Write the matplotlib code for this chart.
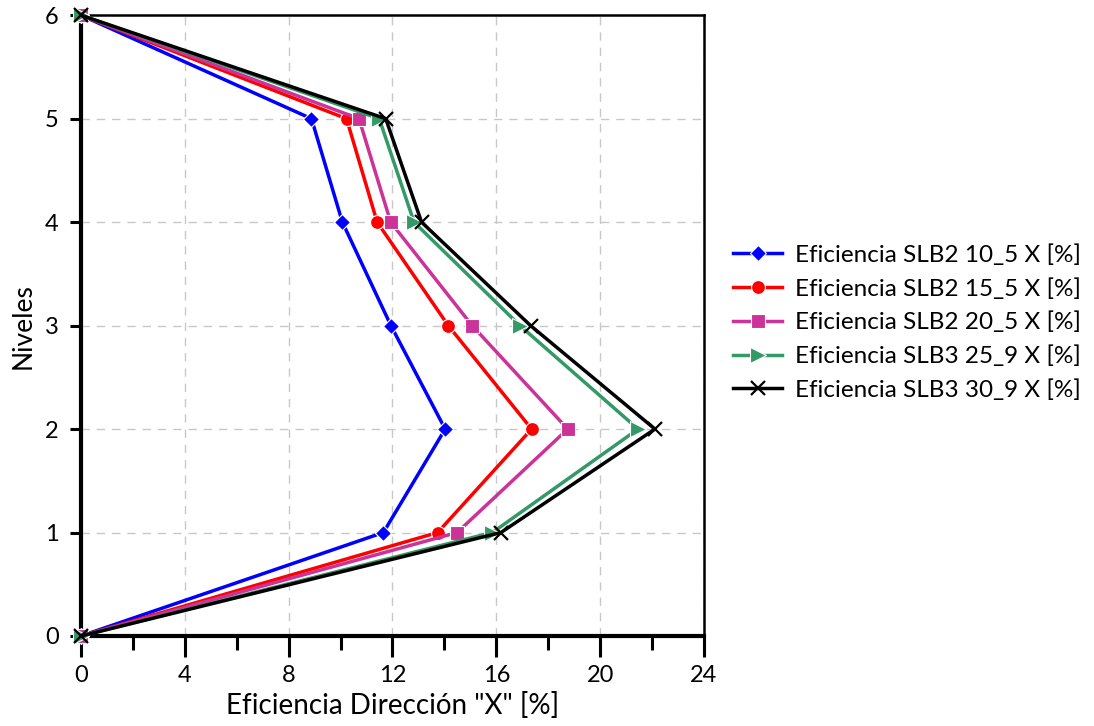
import matplotlib
matplotlib.use("Agg")
import matplotlib.pyplot as plt
from matplotlib.ticker import MultipleLocator

plt.rcParams['font.family'] = ['Lato', 'DejaVu Sans']

niveles = [0, 1, 2, 3, 4, 5, 6]
slb2_10_5 = [0, 11.65, 14.03, 11.94, 10.07, 8.88, 0]
slb2_15_5 = [0, 13.74, 17.36, 14.15, 11.41, 10.23, 0]
slb2_20_5 = [0, 14.49, 18.75, 15.07, 11.93, 10.71, 0]
slb3_25_9 = [0, 15.85, 21.46, 16.91, 12.83, 11.49, 0]
slb3_30_9 = [0, 16.18, 22.11, 17.32, 13.12, 11.74, 0]

labels = ["Eficiencia SLB2 10_5 X [%]", "Eficiencia SLB2 15_5 X [%]",
          "Eficiencia SLB2 20_5 X [%]", "Eficiencia SLB3 25_9 X [%]",
          "Eficiencia SLB3 30_9 X [%]"]
series = [slb2_10_5, slb2_15_5, slb2_20_5, slb3_25_9, slb3_30_9]
colors = ["#0000ff", "#ff0000", "#cc3399", "#339966", "#000000"]
markers = ["D", "o", "s", ">", "x"]
msizes = [8, 10, 10, 12, 10]

fig = plt.figure(figsize=(10.94, 7.26), dpi=100)
ax = fig.add_axes([0.074, 0.124, 0.5695, 0.855])

for vals, lab, c, m, ms in zip(series, labels, colors, markers, msizes):
    if m == "x":
        ax.plot(vals, niveles, color=c, marker=m, markersize=ms, lw=2.5,
                markeredgewidth=1.6, label=lab, clip_on=False, zorder=3)
    else:
        ax.plot(vals, niveles, color=c, marker=m, markersize=ms, lw=2.5,
                markeredgecolor="white", markeredgewidth=0.8, label=lab,
                clip_on=False, zorder=3)

ax.set_xlim(0, 24)
ax.set_ylim(0, 6)
ax.xaxis.set_major_locator(MultipleLocator(4))
ax.xaxis.set_minor_locator(MultipleLocator(2))
ax.yaxis.set_major_locator(MultipleLocator(1))

ax.grid(True, which="major", color="#c8c8c8", linestyle=(0, (6, 5)), linewidth=1.0, zorder=2)
ax.set_axisbelow(True)

for s in ["left", "bottom"]:
    ax.spines[s].set_linewidth(3)
for s in ["top", "right"]:
    ax.spines[s].set_linewidth(1.8)
    ax.spines[s].set_zorder(1)

ax.tick_params(axis="x", which="major", direction="out", length=15, width=2.2,
               labelsize=17, pad=6)
ax.tick_params(axis="x", which="minor", direction="out", length=10, width=2.2)
ax.tick_params(axis="y", which="major", direction="out", length=8, width=2.2,
               labelsize=17, pad=8)

ax.set_xlabel('Eficiencia Dirección "X" [%]', fontsize=20, labelpad=4)
ax.set_ylabel("Niveles", fontsize=19, labelpad=7)

leg = ax.legend(loc="center left", bbox_to_anchor=(1.012, 0.505), frameon=False,
                fontsize=17.5, handlelength=2.0, labelspacing=0.5, handletextpad=0.55)

fig.savefig("out.png", dpi=100)
